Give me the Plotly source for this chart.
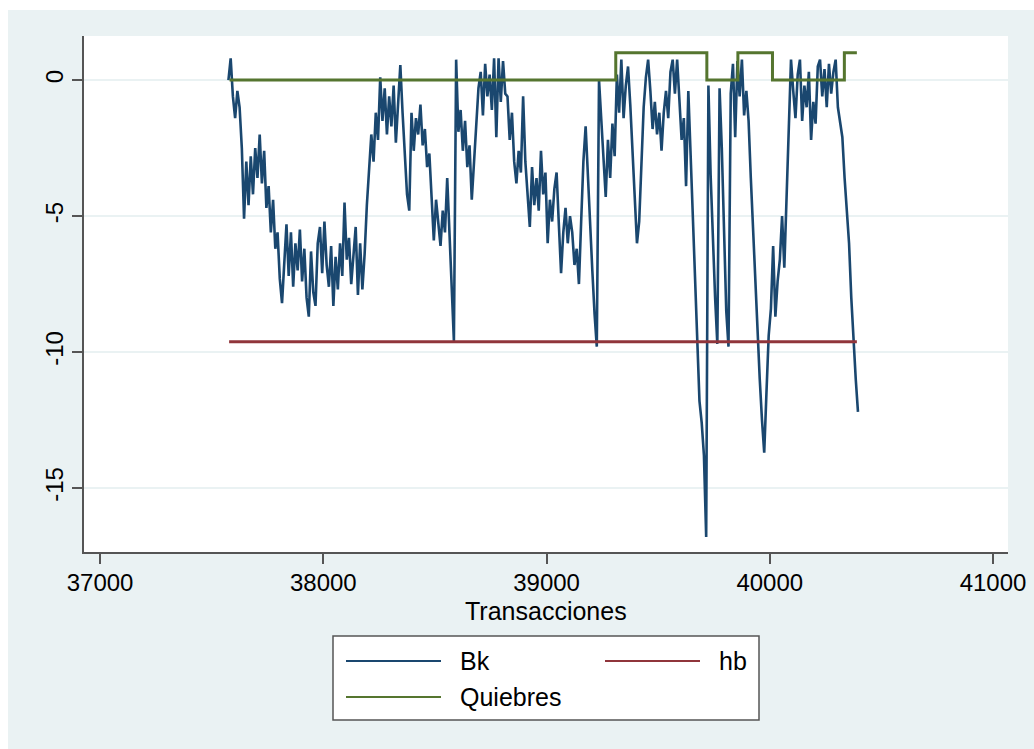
import plotly.graph_objects as go

# Transaction index (every 10th transaction) and Bk values
trans_start = 37575
trans_step = 10
bk = [
    0.0, 0.8, -0.6, -1.4, -0.4, -1.0, -2.5, -5.1, -3.0, -4.6,
    -2.8, -4.2, -2.5, -3.6, -2.0, -3.8, -2.6, -4.7, -3.9, -5.6,
    -4.4, -6.2, -5.6, -7.3, -8.2, -6.5, -5.3, -7.2, -5.6, -7.6,
    -6.0, -7.0, -5.5, -7.4, -6.2, -8.0, -8.7, -6.3, -7.8, -8.3,
    -6.0, -5.4, -7.1, -5.2, -6.8, -7.6, -6.1, -8.3, -6.5, -7.7,
    -6.0, -7.2, -4.5, -6.6, -5.8, -7.5, -6.4, -5.4, -7.9, -6.0,
    -7.7, -6.4, -4.6, -3.4, -2.0, -3.0, -1.2, -2.2, 0.1, -1.5,
    -0.3, -2.0, -0.6, -1.7, -0.2, -2.3, -0.8, 0.55, -1.2, -2.6,
    -4.2, -4.8, -1.2, -2.6, -1.4, -2.0, -0.9, -2.4, -1.8, -3.2,
    -2.7, -4.3, -5.9, -4.4, -5.2, -6.1, -4.8, -5.6, -3.6, -5.9,
    -7.6, -9.6, 0.75, -1.9, -1.1, -2.6, -1.5, -3.2, -2.4, -4.4,
    -3.0, -1.8, -0.3, 0.3, -1.3, 0.6, -0.6, 0.2, -1.1, 0.8,
    -2.1, 0.8, -0.8, 0.7, -0.5, -0.6, -2.2, -1.2, -3.0, -3.8,
    -2.6, -3.4, -0.6, -3.0, -4.4, -5.4, -3.2, -4.6, -3.6, -4.8,
    -2.6, -4.2, -3.4, -6.0, -4.4, -5.2, -4.0, -3.4, -5.3, -7.1,
    -5.6, -4.7, -6.0, -5.0, -5.6, -6.8, -6.2, -7.5, -5.2, -3.0,
    -1.7, -3.6, -5.4, -7.0, -8.6, -9.8, 0.0, -1.5, -2.8, -4.3,
    -2.2, -3.6, -1.6, -2.8, 0.2, -1.2, 0.75, -1.4, -0.2, 0.5,
    -0.9, -2.6, -4.0, -6.0, -5.2, -3.0, -1.0, 0.1, 0.75, -0.4,
    -1.8, -0.8, -2.0, -1.2, -2.6, -1.2, -0.4, -1.4, 0.3, 0.75,
    -0.5, 0.75, -0.8, -2.2, -1.4, -3.9, -0.4, -2.8, -4.8, -7.6,
    -9.5, -11.8, -12.6, -13.8, -16.8, -0.2, -3.5, -6.0, -8.0, -9.7,
    -0.3, -2.5, -5.5, -8.5, -9.8, -0.5, 0.6, -2.1, 0.7, -0.6,
    0.75, -1.3, -0.4, -1.5, -3.6, -5.6, -7.6, -9.5, -11.0, -12.5,
    -13.7, -11.5, -9.4, -8.4, -6.1, -8.7, -7.4, -6.6, -5.0, -6.9,
    -4.6, -2.2, 0.75, -0.4, -1.4, 0.2, 0.75, -1.5, -0.2, -1.0,
    0.3, -2.2, -0.8, -1.6, 0.5, 0.75, -0.6, 0.4, -1.0, 0.6,
    -0.5, 0.3, 0.75, -1.0, -1.6, -2.1, -3.6, -5.0, -6.0, -8.0,
    -9.6, -11.0, -12.2,
]
trans = list(range(trans_start, trans_start + trans_step * len(bk), trans_step))

# Threshold hb
hb_x = [37578, 40390]
hb_y = [-9.62, -9.62]

# Quiebres (break indicator, step function)
q_x = [37580, 39310, 39718, 39857, 40012, 40334, 40390]
q_y = [0, 1, 0, 1, 0, 1, 1]

x_ticks = [37000, 38000, 39000, 40000, 41000]
y_ticks = [0, -5, -10, -15]

C_BK = "#1a476f"
C_HB = "#90353b"
C_Q = "#55752f"
BG = "#eaf2f3"
FONT = "Liberation Sans, Arial, Helvetica, sans-serif"
FS = 25
FT = 24

fig = go.Figure()
fig.add_trace(go.Scatter(x=trans, y=bk, mode="lines", name="Bk",
                         line=dict(color=C_BK, width=2.6)))
fig.add_trace(go.Scatter(x=hb_x, y=hb_y, mode="lines", name="hb",
                         line=dict(color=C_HB, width=3)))
fig.add_trace(go.Scatter(x=q_x, y=q_y, mode="lines", name="Quiebres",
                         line=dict(color=C_Q, width=3, shape="hv")))

W, H = 1034, 749
L, R, T, B = 84, 26, 36, 197
pw, ph = W - L - R, H - T - B


def px_x(px):
    return (px - L) / pw


def px_y(py):
    return (H - B - py) / ph


shapes = [
    # white strips at top and left of page
    dict(type="rect", xref="paper", yref="paper", x0=px_x(0), x1=px_x(W),
         y0=px_y(0), y1=px_y(10), fillcolor="white", line_width=0, layer="below"),
    dict(type="rect", xref="paper", yref="paper", x0=px_x(0), x1=px_x(8),
         y0=px_y(0), y1=px_y(H), fillcolor="white", line_width=0, layer="below"),
    # legend box
    dict(type="rect", xref="paper", yref="paper", x0=px_x(333), x1=px_x(759),
         y0=px_y(720), y1=px_y(636), fillcolor="white",
         line=dict(color="#555555", width=1.5)),
]
annotations = [
    dict(text="Transacciones", xref="paper", yref="paper", x=0.5, y=px_y(611),
         showarrow=False, font=dict(size=FS, color="black", family=FONT),
         xanchor="center", yanchor="middle"),
]
legend_items = [
    ("Bk", C_BK, 346, 441, 458, 661),
    ("hb", C_HB, 605, 700, 717, 661),
    ("Quiebres", C_Q, 346, 441, 458, 697),
]
for name, col, lx0, lx1, tx, ty in legend_items:
    shapes.append(dict(type="line", xref="paper", yref="paper", x0=px_x(lx0), x1=px_x(lx1),
                       y0=px_y(ty), y1=px_y(ty), line=dict(color=col, width=2)))
    annotations.append(dict(text=name, xref="paper", yref="paper", x=px_x(tx), y=px_y(ty),
                            showarrow=False, xanchor="left", yanchor="middle",
                            font=dict(size=FS, color="black", family=FONT)))

fig.update_layout(
    width=W, height=H,
    margin=dict(l=L, r=R, t=T, b=B, autoexpand=False),
    paper_bgcolor=BG, plot_bgcolor="white",
    font=dict(family=FONT, size=FS, color="black"),
    showlegend=False,
    shapes=shapes, annotations=annotations,
    xaxis=dict(range=[36928, 41067], tickvals=x_ticks, ticktext=[str(v) for v in x_ticks],
               showgrid=False, zeroline=False, showline=True, linecolor="#555555", linewidth=1.5,
               ticks="outside", ticklen=10, tickwidth=1.5, tickcolor="#555555",
               tickfont=dict(size=FT), automargin=False, ticklabelstandoff=-2),
    yaxis=dict(range=[-17.35, 1.62], tickvals=y_ticks, ticktext=[str(v) for v in y_ticks],
               showgrid=True, gridcolor=BG, gridwidth=1.5, zeroline=False,
               showline=True, linecolor="#555555", linewidth=1.5,
               ticks="outside", ticklen=10, tickwidth=1.5, tickcolor="#555555",
               tickangle=-90, tickfont=dict(size=FT), automargin=False),
)

fig.write_html("out.html")
